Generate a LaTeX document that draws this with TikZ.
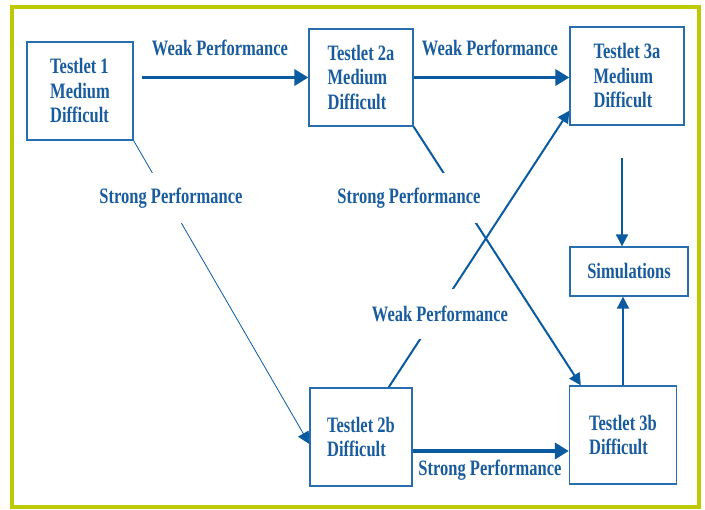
\documentclass[tikz,border=0pt]{standalone}
\usepackage{fontspec}
\setmainfont{Liberation Serif}[FakeStretch=0.75]
\usetikzlibrary{arrows.meta}
\definecolor{frameyellow}{RGB}{190,202,0}
\definecolor{linkblue}{RGB}{10,90,160}
\definecolor{textblue}{RGB}{25,92,158}
\definecolor{boxblue}{RGB}{40,110,175}

\begin{document}
\begin{tikzpicture}[
    x=1pt, y=-1pt,
    testlet/.style={rectangle, draw=boxblue, line width=1.3pt, text=textblue, font=\bfseries\fontsize{22}{24.5}\selectfont, align=left, inner sep=0pt},
    perf/.style={text=textblue, font=\bfseries\fontsize{22}{24.5}\selectfont, inner sep=2pt},
    gap/.style={perf, fill=white, minimum height=50pt},
    bigarrow/.style={-{Triangle[length=14pt,width=16pt]}, line width=3.5pt, draw=linkblue},
    arrow/.style={-{Triangle[length=12pt,width=12pt]}, line width=2pt, draw=linkblue},
    thinarrow/.style={-{Triangle[length=12pt,width=12pt]}, line width=0.8pt, draw=linkblue}
]
\useasboundingbox (0,0) rectangle (705,510);
\draw[frameyellow, line width=4.5pt] (12,7) rectangle (699,507);

% Testlets
\node[testlet, minimum width=106pt, minimum height=98pt] (t1) at (80,91) {Testlet 1\\Medium\\Difficult};
\node[testlet, minimum width=104pt, minimum height=97pt] (t2a) at (361,77.5) {Testlet 2a\\Medium\\Difficult};
\node[testlet, minimum width=114pt, minimum height=98pt] (t3a) at (627,76) {Testlet 3a\\Medium\\Difficult};
\node[testlet, minimum width=102pt, minimum height=98pt] (t2b) at (361,437) {Testlet 2b\\Difficult};
\node[testlet, minimum width=107pt, minimum height=98pt] (t3b) at (623,435) {Testlet 3b\\Difficult};
\node[testlet, minimum width=118pt, minimum height=49pt] (sim) at (629,271.5) {Simulations};

% Helper points
\coordinate (weakstart) at ([xshift=8pt]t1.east |- t2a.west);
\coordinate (strongstart) at ([yshift=-14pt]t2b.east);
\coordinate (simin) at (622,158);

% Connections
\draw[bigarrow] (weakstart) -- (t2a.west);
\draw[bigarrow] (t2a.east) -- (t2a.east -| t3a.west);
\draw[bigarrow] (strongstart) -- (strongstart -| t3b.west);
\draw[thinarrow] (t1.south east) -- ([yshift=-7pt]t2b.west);
\draw[arrow] (t2a.south east) -- ([xshift=12pt]t3b.north west);
\draw[arrow] ([xshift=-24pt]t2b.north east) -- ([yshift=15pt]t3a.south west);
\draw[arrow] (simin) -- (simin |- sim.north);
\draw[arrow] (t3b.north) -- (t3b.north |- sim.south);

% Labels
\node[perf] (weak1) at (220,48) {Weak Performance};
\node[perf] (weak2) at (490,48) {Weak Performance};
\node[gap] (strong1) at (171,198) {Strong Performance};
\node[gap] (strong2) at (409,198) {Strong Performance};
\node[gap] (weak3) at (440,314) {Weak Performance};
\node[perf] (strong3) at (490,470) {Strong Performance};

\end{tikzpicture}
\end{document}
